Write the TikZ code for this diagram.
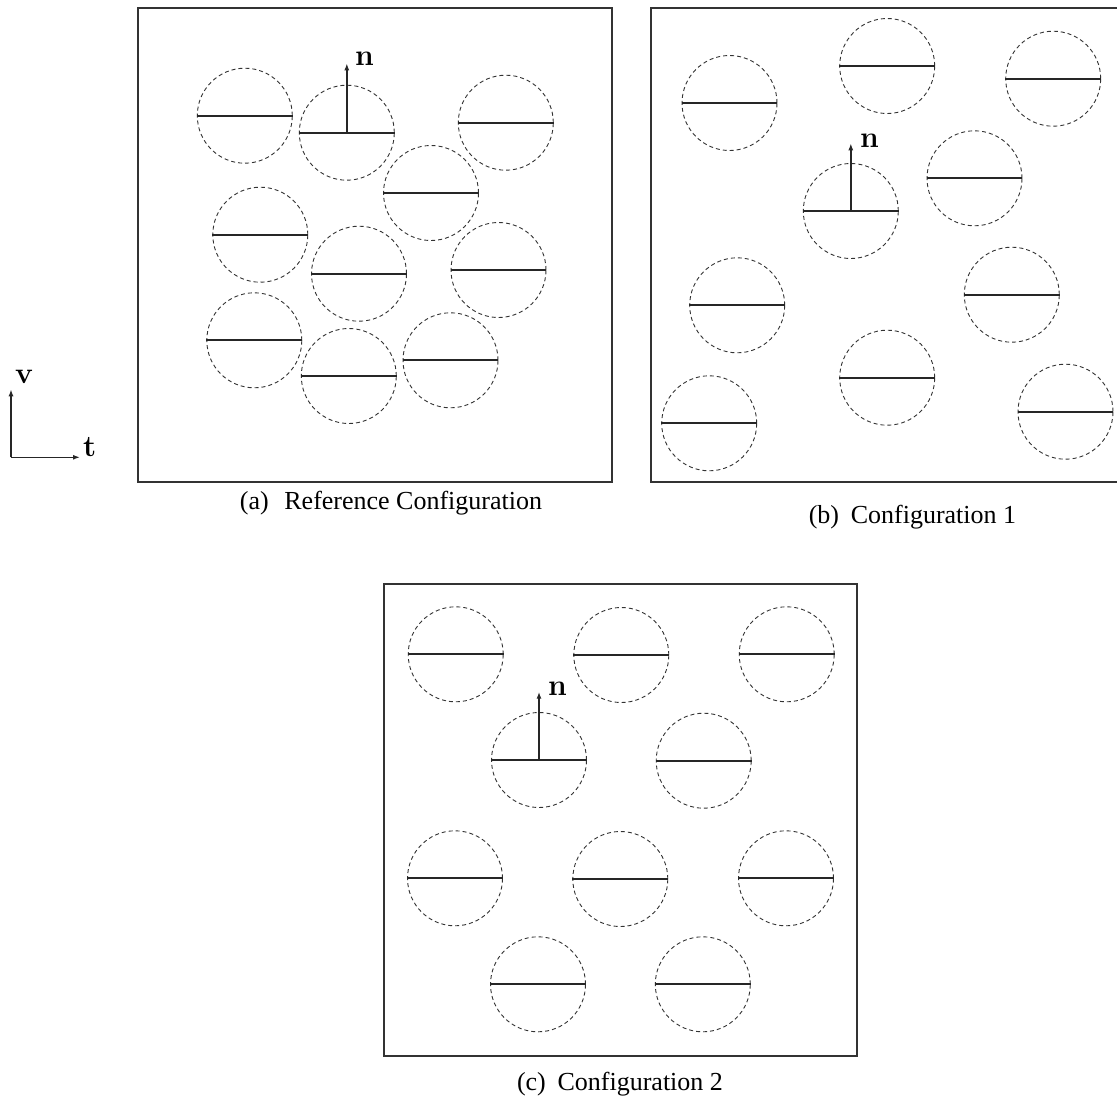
\documentclass[tikz,border=0pt]{standalone}
\usepackage{fontspec}
\newfontfamily\capfont{Liberation Serif}
\usetikzlibrary{arrows.meta}
\begin{document}
\begin{tikzpicture}[x=1pt,y=-1pt,
  frame/.style={draw=black!80,line width=2pt},
  disc/.style={circle,minimum size=95pt,inner sep=0pt,draw=black!80,line width=0.9pt,dash pattern=on 4pt off 3pt},
  diam/.style={draw=black!85,line width=2pt},
  vec/.style={draw=black!85,line width=1.4pt,-{Latex[length=7pt,width=5pt]}},
  vlabel/.style={anchor=base west,inner sep=0pt,font=\fontsize{30}{34}\selectfont\bfseries},
  captext/.style={anchor=base,inner sep=0pt,font=\capfont\fontsize{26}{30}\selectfont}]
\useasboundingbox[fill=white] (0,0) rectangle (1117,1106);
% frames
\draw[frame] (137.5,7.5) rectangle (612.3,482);
\draw[frame] (650.5,7.5) rectangle (1125,482);
\draw[frame] (384.3,584.3) rectangle (857.3,1056);
% discs
\foreach \n/\x/\y in {a1/244.8/115.7,a2/346.8/132.7,a3/505.8/122.7,a4/431/193,a5/260.3/234.7,a6/359/273.7,a7/498.5/270,a8/254.3/340.3,a9/348.8/376,a10/450.5/360.3,
  b1/729.5/103,b2/887.2/66,b3/1053.2/78.7,b4/850.8/211,b5/974.5/178.3,b6/737.2/305.3,b7/1011.8/294.7,b8/887.2/377.7,b9/709.2/423.3,b10/1065.5/411.7,
  c1/455.7/654.3,c2/621.3/655,c3/786.7/654.3,c4/539/760,c5/703.7/760.7,c6/455/878.3,c7/620.3/879,c8/786/878.3,c9/538/984.3,c10/702.8/984.3}{
  \node[disc] (\n) at (\x,\y) {};
  \draw[diam] (\n.west) -- (\n.east);
}
% normal vectors
\coordinate (na) at (346.8,63.3);
\coordinate (nb) at (850.8,143.3);
\coordinate (nc) at (539,691.7);
\draw[vec] (a2.center) -- (na);
\draw[vec] (b4.center) -- (nb);
\draw[vec] (c4.center) -- (nc);
\node[vlabel] (lna) at (355,65.7) {n};
\node[vlabel] (lnb) at (860,147) {n};
\node[vlabel] (lnc) at (548,695) {n};
% axes
\coordinate (o) at (11,457.3);
\coordinate (vt) at (11,389.3);
\coordinate (tt) at (80,457.3);
\draw[vec] (o) -- (vt);
\draw[vec] (o) -- (tt);
\node[vlabel] (lv) at (15,383.3) {v};
\node[vlabel] (lt) at (83,456.7) {t};
% captions
\node[captext] (capa) at (391,509) {(a)\hspace{0.6em}Reference Configuration};
\node[captext] (capb) at (912.5,523.3) {(b)\hspace{0.45em}Configuration 1};
\node[captext] (capc) at (620,1090) {(c)\hspace{0.45em}Configuration 2};
\end{tikzpicture}
\end{document}
